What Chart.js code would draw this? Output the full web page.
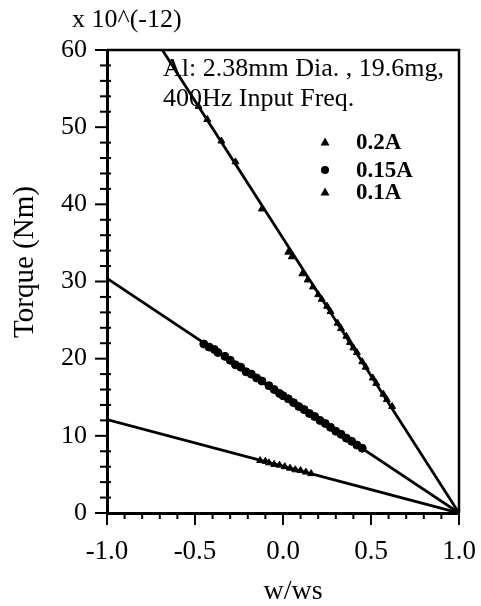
<!DOCTYPE html>
<html>
<head>
<meta charset="utf-8">
<script src="https://cdn.jsdelivr.net/npm/chart.js@4.4.0/dist/chart.umd.min.js"></script>
<style>
  html, body { margin: 0; padding: 0; background: #fff; }
  #wrap { width: 481px; height: 606px; }
</style>
</head>
<body>
<div id="wrap"><canvas id="c" width="481" height="606"></canvas></div>
<script>
// ---- data ----
const xTicks = [-1.0, -0.5, 0.0, 0.5, 1.0];
const yTicks = [0, 10, 20, 30, 40, 50, 60];

// 0.2A (triangles)
const s02 = [-0.48, -0.43, -0.35, -0.27, -0.12, 0.03, 0.05, 0.11, 0.14, 0.17, 0.20, 0.22, 0.25, 0.27, 0.31, 0.33, 0.36, 0.38, 0.40, 0.42, 0.45, 0.47, 0.51, 0.53, 0.57, 0.59, 0.62];
const t02 = [52.7, 51.0, 48.2, 45.5, 39.4, 33.8, 33.2, 31.0, 30.2, 29.3, 28.3, 27.7, 26.8, 26.1, 24.6, 23.9, 22.9, 22.1, 21.4, 20.8, 19.6, 18.9, 17.5, 16.8, 15.4, 14.7, 13.8];

// 0.15A (circles)
const s015 = [-0.45, -0.42, -0.39, -0.37, -0.33, -0.30, -0.27, -0.24, -0.21, -0.18, -0.15, -0.12, -0.08, -0.05, -0.02, 0.00, 0.03, 0.06, 0.09, 0.12, 0.15, 0.18, 0.21, 0.24, 0.27, 0.30, 0.33, 0.36, 0.39, 0.42, 0.45];
const t015 = [21.9, 21.5, 21.2, 20.8, 20.3, 19.8, 19.2, 18.9, 18.3, 18.0, 17.5, 17.1, 16.5, 16.0, 15.5, 15.2, 14.8, 14.3, 13.8, 13.4, 12.9, 12.5, 12.0, 11.6, 11.1, 10.6, 10.2, 9.7, 9.3, 8.8, 8.4];

// 0.1A (triangles)
const s01 = [-0.13, -0.10, -0.08, -0.05, -0.02, 0.01, 0.04, 0.07, 0.10, 0.13, 0.16];
const t01 = [6.8, 6.7, 6.5, 6.3, 6.2, 6.0, 5.8, 5.6, 5.5, 5.3, 5.1];

// fitted straight lines (endpoints)
const fitS = [-1.0, 1.0];
const fit02 = [71.2, 0];
const fit015 = [30.4, 0];
const fit01 = [12.1, 0];

const seriesLabels = ['0.2A', '0.15A', '0.1A'];
const annotationLines = ['Al: 2.38mm Dia. , 19.6mg,', '400Hz Input Freq.'];
const scaleNote = 'x 10^(-12)';
const xTitle = 'w/ws';
const yTitle = 'Torque (Nm)';

// ---- build ----
const pts = (xs, ys) => xs.map((x, i) => ({ x: x, y: ys[i] }));
const SERIF = '"Liberation Serif", "Times New Roman", serif';

const pointDs = (label, xs, ys, style) => ({
  label: label, data: pts(xs, ys), showLine: false,
  pointStyle: style, pointRadius: 4, pointBackgroundColor: '#000',
  pointBorderColor: '#000', pointBorderWidth: 1, isPoints: true
});
const lineDs = (ys) => ({
  label: '', data: pts(fitS, ys), showLine: true, borderColor: '#000',
  borderWidth: 2.8, pointRadius: 0, fill: false
});

const decor = {
  id: 'decor',
  afterDraw(chart) {
    const ctx = chart.ctx;
    const xs = chart.scales.x, ys = chart.scales.y;
    const a = chart.chartArea;
    ctx.save();
    ctx.strokeStyle = '#000';
    // box (top & right)
    ctx.lineWidth = 2.5;
    ctx.beginPath();
    ctx.moveTo(a.left, a.top); ctx.lineTo(a.right, a.top); ctx.lineTo(a.right, a.bottom);
    ctx.stroke();
    // x ticks
    ctx.lineWidth = 2;
    for (let i = -10; i <= 10; i++) {
      const v = i / 10;
      const px = xs.getPixelForValue(v);
      const major = (i % 5 === 0);
      ctx.beginPath();
      ctx.moveTo(px, a.bottom - 1);
      ctx.lineTo(px, a.bottom + (major ? 12 : 6));
      ctx.stroke();
    }
    // y ticks
    for (let v = 0; v <= 60; v += 2) {
      const py = ys.getPixelForValue(v);
      const major = (v % 10 === 0);
      ctx.beginPath();
      if (major) { ctx.moveTo(a.left - 12, py); ctx.lineTo(a.left, py); }
      else { ctx.moveTo(a.left - 7, py); ctx.lineTo(a.left + 4, py); }
      ctx.stroke();
    }
    // texts
    ctx.fillStyle = '#000';
    ctx.textBaseline = 'middle';
    ctx.textAlign = 'left';
    ctx.font = '26px ' + SERIF;
    ctx.fillText(scaleNote, 72, 20);
    ctx.fillText(annotationLines[0], 163, 69);
    ctx.fillText(annotationLines[1], 163, 99);
    // axis titles
    ctx.textAlign = 'center';
    ctx.font = '28px ' + SERIF;
    ctx.fillText(xTitle, 293, 592);
    ctx.save();
    ctx.translate(25, 262);
    ctx.rotate(-Math.PI / 2);
    ctx.font = '29px ' + SERIF;
    ctx.fillText(yTitle, 0, 0);
    ctx.restore();
    // legend
    ctx.textAlign = 'left';
    const legY = [142, 170, 192];
    const pointSets = chart.data.datasets.filter(d => d.isPoints);
    ctx.font = 'bold 23px ' + SERIF;
    pointSets.forEach((d, i) => {
      const mx = 325, my = legY[i];
      ctx.beginPath();
      if (d.pointStyle === 'circle') {
        ctx.arc(mx, my, 4, 0, Math.PI * 2);
      } else {
        ctx.moveTo(mx, my - 4.5); ctx.lineTo(mx + 4.5, my + 3.5); ctx.lineTo(mx - 4.5, my + 3.5); ctx.closePath();
      }
      ctx.fill();
      ctx.fillText(seriesLabels[i], 356, my + 1);
    });
    ctx.restore();
  }
};

new Chart(document.getElementById('c'), {
  type: 'scatter',
  data: {
    datasets: [
      lineDs(fit02), lineDs(fit015), lineDs(fit01),
      pointDs(seriesLabels[0], s02, t02, 'triangle'),
      pointDs(seriesLabels[1], s015, t015, 'circle'),
      pointDs(seriesLabels[2], s01, t01, 'triangle')
    ]
  },
  options: {
    responsive: false,
    animation: false,
    devicePixelRatio: 1,
    layout: { padding: { top: 50, right: 22, left: 0, bottom: 0 } },
    plugins: { legend: { display: false }, tooltip: { enabled: false } },
    scales: {
      x: {
        type: 'linear', min: -1, max: 1,
        afterBuildTicks: (s) => { s.ticks = xTicks.map(v => ({ value: v })); },
        afterFit: (s) => { s.height = 93; s.paddingLeft = 0; s.paddingRight = 0; },
        ticks: { callback: v => Number(v).toFixed(1), font: { family: SERIF, size: 27 }, color: '#000', padding: 23, maxRotation: 0 },
        grid: { display: false, drawTicks: false },
        border: { display: true, color: '#000', width: 3 }
      },
      y: {
        type: 'linear', min: 0, max: 60,
        afterBuildTicks: (s) => { s.ticks = yTicks.map(v => ({ value: v })); },
        afterFit: (s) => { s.width = 107; s.paddingTop = 0; s.paddingBottom = 0; },
        ticks: { font: { family: SERIF, size: 26 }, color: '#000', padding: 20 },
        grid: { display: false, drawTicks: false },
        border: { display: true, color: '#000', width: 3 }
      }
    }
  },
  plugins: [decor]
});
</script>
</body>
</html>
